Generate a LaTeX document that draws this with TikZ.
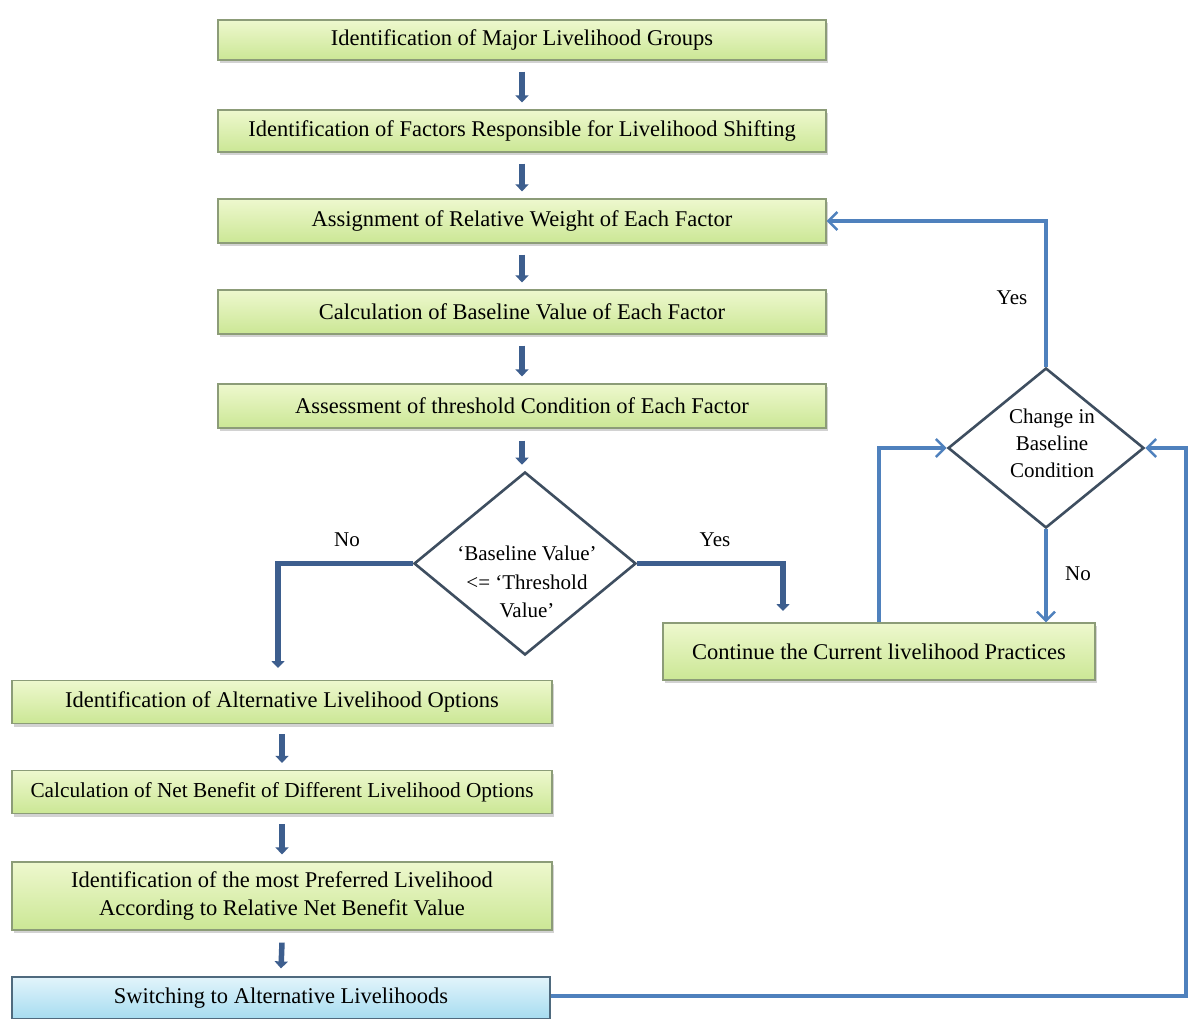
\documentclass[tikz,border=0pt]{standalone}
\usepackage{fontspec}
\setmainfont{Liberation Serif}
\usetikzlibrary{shapes.geometric,arrows.meta,shadows,calc}
\definecolor{boxtop}{HTML}{EEF8CE}
\definecolor{boxbot}{HTML}{CBE795}
\definecolor{boxedge}{HTML}{8C9C78}
\definecolor{bluetop}{HTML}{E2F4FB}
\definecolor{bluebot}{HTML}{A6DCF0}
\definecolor{blueedge}{HTML}{4F6A7E}
\definecolor{darkarrow}{HTML}{3D5E8E}
\definecolor{lightarrow}{HTML}{4F81BD}
\definecolor{diaedge}{HTML}{3E4E60}
\tikzset{
  boxtext/.style={font=\fontsize{22.5}{28}\selectfont},
  greenbox/.style={draw=boxedge, line width=1.2pt, top color=boxtop, bottom color=boxbot,
    inner sep=0pt, align=center, boxtext,
    drop shadow={opacity=0.35, shadow xshift=2pt, shadow yshift=-3pt}},
  bluebox/.style={draw=blueedge, line width=1.2pt, top color=bluetop, bottom color=bluebot,
    inner sep=0pt, align=center, boxtext},
  decision/.style={diamond, draw=diaedge, line width=2.6pt, fill=white, inner sep=0pt},
  dectext/.style={align=center, font=\fontsize{21}{28.5}\selectfont},
  lbl/.style={font=\fontsize{21}{24}\selectfont},
  thickarrow/.style={draw=darkarrow, line width=5.5pt, -{Triangle[width=13pt,length=7pt]}},
  bluearrow/.style={draw=lightarrow, line width=3.2pt, -{Straight Barb[width=18pt,length=9pt,line width=2.5pt]}},
}
\begin{document}
\begin{tikzpicture}[x=1pt,y=-1pt]
\useasboundingbox (0,0) rectangle (1189,1019);
\fill[white] (0,0) rectangle (1189,1019);

% main column
\node[greenbox, minimum width=608, minimum height=40] (b1) at (522,40) {Identification of Major Livelihood Groups};
\node[greenbox, minimum width=608, minimum height=42] (b2) at (522,131) {Identification of Factors Responsible for Livelihood Shifting};
\node[greenbox, minimum width=608, minimum height=44] (b3) at (522,221) {Assignment of Relative Weight of Each Factor};
\node[greenbox, minimum width=608, minimum height=44] (b4) at (522,312) {Calculation of Baseline Value of Each Factor};
\node[greenbox, minimum width=608, minimum height=44] (b5) at (522,406) {Assessment of threshold Condition of Each Factor};

% decision 1
\node[decision, minimum width=222, minimum height=183] (d1) at (525,563.5) {};
\node[dectext] (d1t) at (527,582) {‘Baseline Value’\\<= ‘Threshold\\Value’};

% right part
\node[greenbox, minimum width=432, minimum height=57] (cont) at (879,651.5) {Continue the Current livelihood Practices};
\node[decision, minimum width=196, minimum height=160] (d2) at (1046,448) {};
\node[dectext, font=\fontsize{21}{27}\selectfont] (d2t) at (1052,443) {Change in\\Baseline\\Condition};

% left column
\node[greenbox, minimum width=540, minimum height=43] (b6) at (282,702) {Identification of Alternative Livelihood Options};
\node[greenbox, minimum width=540, minimum height=43, font=\fontsize{21.3}{27}\selectfont] (b7) at (282,792) {Calculation of Net Benefit of Different Livelihood Options};
\node[greenbox, minimum width=540, minimum height=68] (b8) at (282,896) {Identification of the most Preferred Livelihood\\According to Relative Net Benefit Value};
\node[bluebox, minimum width=538, minimum height=42] (b9) at (281,998) {Switching to Alternative Livelihoods};

% short arrows
\draw[thickarrow] ($(b1.south)+(0,11)$) -- ($(b2.north)+(0,-7)$);
\draw[thickarrow] ($(b2.south)+(0,11)$) -- ($(b3.north)+(0,-7)$);
\draw[thickarrow] ($(b3.south)+(0,11)$) -- ($(b4.north)+(0,-7)$);
\draw[thickarrow] ($(b4.south)+(0,11)$) -- ($(b5.north)+(0,-7)$);
\draw[thickarrow] ($(b5.south)+(0,12)$) -- ($(d1.north)+(-3,-6)$);
\draw[thickarrow] ($(b6.south)+(0,10)$) -- ($(b7.north)+(0,-7)$);
\draw[thickarrow] ($(b7.south)+(0,10)$) -- ($(b8.north)+(0,-7)$);
\draw[thickarrow] ($(b8.south)+(0,12)$) -- ($(b9.north)+(0,-8)$);

% decision 1 branches
\coordinate (noend) at (278,668);
\coordinate (yesend) at (783,611);
\draw[thickarrow] (d1.west) -| (noend);
\draw[thickarrow] (d1.east) -| (yesend);
\node[lbl] (lno) at (347,540) {No};
\node[lbl] (lyes) at (715,540) {Yes};

% feedback connectors
\draw[bluearrow] (cont.north) |- (d2.west);
\draw[bluearrow] (d2.south) -- (d2.south |- cont.north);
\draw[bluearrow] (d2.north) |- (b3.east);
\coordinate (c1) at (1186,996);
\coordinate (c2) at (1186,448);
\draw[bluearrow] (b9.east |- c1) -- (c1) -- (c2) -- (d2.east);
\node[lbl] (lyes2) at (1012,298) {Yes};
\node[lbl] (lno2) at (1078,574) {No};
\end{tikzpicture}
\end{document}
